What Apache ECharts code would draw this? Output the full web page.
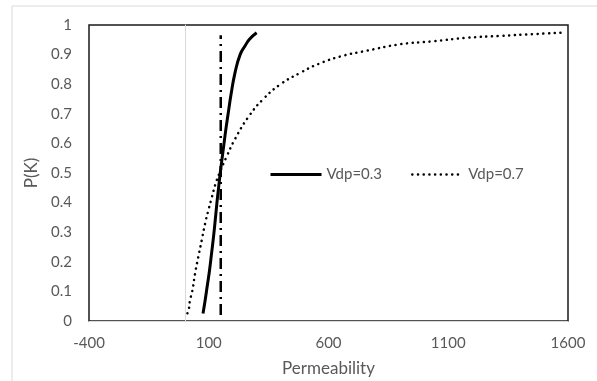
<!DOCTYPE html>
<html>
<head>
<meta charset="utf-8">
<script src="https://cdn.jsdelivr.net/npm/echarts@6/dist/echarts.min.js"></script>
<style>
  html, body {margin: 0; padding: 0; background: #fff;}
  #chart {width: 597px; height: 381px;}
</style>
</head>
<body>
<div id="chart"></div>
<script>
// Vdp=0.3 curve (permeability, P(K))
const k03 = [76, 85, 94, 103, 112, 120, 127, 134, 141, 148, 155, 163, 171, 180, 193, 210, 231, 252, 270, 300];
const p03 = [0.025, 0.07, 0.12, 0.17, 0.23, 0.285, 0.34, 0.398, 0.45, 0.50, 0.545, 0.595, 0.645, 0.695, 0.765, 0.84, 0.90, 0.93, 0.952, 0.974];

// Vdp=0.7 curve
const k07 = [11, 16, 22, 31, 43, 56, 71, 85, 99, 113, 127, 145, 175, 210, 266, 328, 400, 481, 560, 660, 759, 900, 1037, 1180, 1315, 1450, 1578];
const p07 = [0.026, 0.035, 0.071, 0.10, 0.161, 0.215, 0.274, 0.33, 0.376, 0.418, 0.46, 0.50, 0.556, 0.615, 0.69, 0.75, 0.80, 0.838, 0.869, 0.896, 0.913, 0.935, 0.945, 0.957, 0.963, 0.969, 0.974];

// vertical dash-dot line (no legend entry)
const kMean = [150, 150];
const pMean = [0.02, 0.965];

const xTicks = {min: -400, max: 1600, interval: 500};
const yTicks = {min: 0, max: 1, interval: 0.1};

const pairs = (xs, ys) => xs.map((x, i) => [x, ys[i]]);
const grayText = '#595959';
const font = 'Lato';

const myChart = echarts.init(document.getElementById('chart'));
myChart.setOption({
  animation: false,
  textStyle: {fontFamily: font},
  graphic: [{
    type: 'rect',
    shape: {x: 12, y: 6, width: 640, height: 420},
    style: {fill: 'none', stroke: '#d9d9d9', lineWidth: 1},
    silent: true
  }],
  grid: {
    left: 89, top: 25, right: 29, bottom: 60,
    containLabel: false,
    outerBoundsMode: 'none',
    show: true,
    borderColor: '#1a1a1a',
    borderWidth: 1.5
  },
  legend: {
    data: ['Vdp=0.3', 'Vdp=0.7'],
    left: 264,
    top: 162,
    itemWidth: 51,
    itemHeight: 14,
    itemGap: 29,
    itemStyle: {opacity: 0},
    lineStyle: {width: 'inherit'},
    textStyle: {color: grayText, fontSize: 15, fontFamily: font}
  },
  xAxis: {
    type: 'value',
    min: xTicks.min,
    max: xTicks.max,
    interval: xTicks.interval,
    name: 'Permeability',
    nameLocation: 'middle',
    nameGap: 39,
    nameTextStyle: {color: grayText, fontSize: 17, fontFamily: font},
    axisLine: {show: true, lineStyle: {color: '#d9d9d9', width: 1}},
    axisTick: {show: false},
    splitLine: {show: false},
    axisLabel: {color: grayText, fontSize: 15, margin: 15, fontFamily: font, formatter: v => String(v)}
  },
  yAxis: {
    type: 'value',
    min: yTicks.min,
    max: yTicks.max,
    interval: yTicks.interval,
    name: 'P(K)',
    nameLocation: 'middle',
    nameGap: 4,
    nameTextStyle: {color: grayText, fontSize: 17, fontFamily: font},
    axisLine: {show: true, onZero: true, lineStyle: {color: '#d9d9d9', width: 1}},
    axisTick: {show: false},
    splitLine: {show: false},
    axisLabel: {color: grayText, fontSize: 15, margin: 17, fontFamily: font}
  },
  series: [
    {
      name: 'Vdp=0.3', type: 'line', smooth: true, symbol: 'none',
      data: pairs(k03, p03),
      lineStyle: {color: '#000', width: 3},
      itemStyle: {color: '#000'}
    },
    {
      name: 'Vdp=0.7', type: 'line', smooth: true, symbol: 'none',
      data: pairs(k07, p07),
      lineStyle: {color: '#000', width: 2.5, type: [0.1, 5.6], cap: 'round'},
      itemStyle: {color: '#000'}
    },
    {
      name: 'mean', type: 'line', symbol: 'none',
      data: pairs(kMean, pMean),
      lineStyle: {color: '#000', width: 2.5, type: [11, 5, 2, 5]},
      itemStyle: {color: '#000'}
    }
  ]
});
</script>
</body>
</html>
